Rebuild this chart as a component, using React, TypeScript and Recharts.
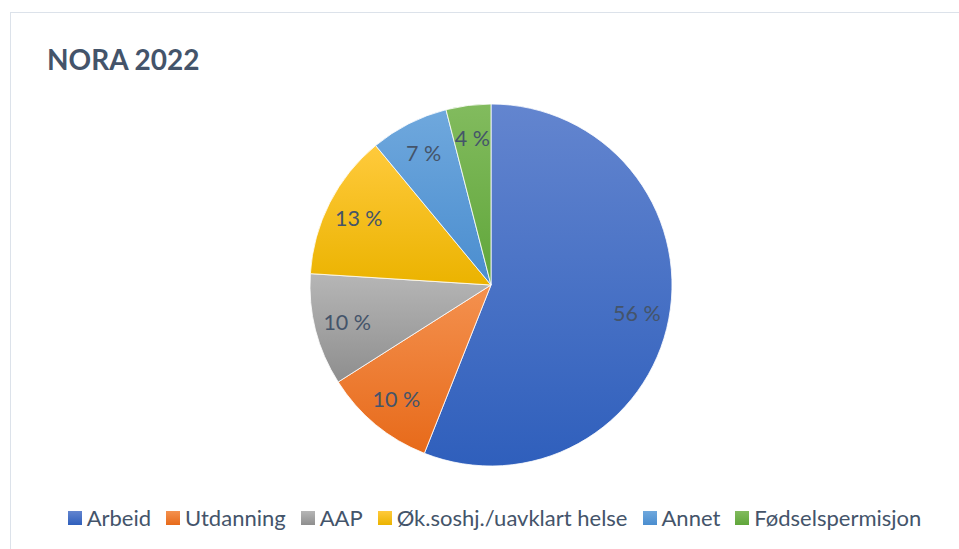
import { PieChart, Pie, Cell, Legend } from 'recharts';

const categories = ['Arbeid', 'Utdanning', 'AAP', 'Øk.soshj./uavklart helse', 'Annet', 'Fødselspermisjon'];
const shares = [56, 10, 10, 13, 7, 4];
const topColors = ['#6385cf', '#f4914f', '#b6b6b6', '#ffca3c', '#6fa8dd', '#82bb5e'];
const bottomColors = ['#2f5fbc', '#e76a1a', '#8e8e8e', '#ebb300', '#4a8dcf', '#60a63a'];

const data = categories.map((name, i) => ({ name, value: shares[i] }));

const TEXT = '#44546A';
const FONT = 'Lato, "Open Sans", sans-serif';
const RAD = Math.PI / 180;

const renderLabel = (props: any) => {
  const { cx, cy, midAngle, outerRadius, value } = props;
  const r = outerRadius * 0.82;
  const x = cx + r * Math.cos(-midAngle * RAD);
  const y = cy + r * Math.sin(-midAngle * RAD);
  return (
    <text
      x={x}
      y={y}
      fill={TEXT}
      fontSize={21.5}
      fontFamily={FONT}
      textAnchor="middle"
      dominantBaseline="central"
    >
      {`${value} %`}
    </text>
  );
};

const renderLegend = () => (
  <div
    style={{
      display: 'flex',
      justifyContent: 'center',
      alignItems: 'center',
      fontFamily: FONT,
      fontSize: 22,
      color: TEXT,
      whiteSpace: 'nowrap',
    }}
  >
    {categories.map((name, i) => (
      <div key={name} style={{ display: 'flex', alignItems: 'center', marginRight: i < categories.length - 1 ? 15 : 0 }}>
        <div
          style={{
            width: 14,
            height: 14,
            marginRight: 5,
            background: `linear-gradient(${topColors[i]}, ${bottomColors[i]})`,
          }}
        />
        <span>{name}</span>
      </div>
    ))}
  </div>
);

export default function App() {
  return (
    <div style={{ position: 'absolute', left: 0, top: 0, width: 959, height: 549, background: '#fff', overflow: 'hidden' }}>
      <div
        style={{
          position: 'absolute',
          left: 10,
          top: 12,
          width: 1000,
          height: 600,
          borderLeft: '1.5px solid #dce2ea',
          borderTop: '1.5px solid #dce2ea',
        }}
      />
      <div
        style={{
          position: 'absolute',
          left: 47,
          top: 41,
          fontFamily: FONT,
          fontWeight: 700,
          fontSize: 28,
          color: TEXT,
          lineHeight: '36px',
        }}
      >
        NORA 2022
      </div>
      <div style={{ position: 'absolute', left: 0, top: 0 }}>
        <PieChart width={959} height={549} margin={{ top: 0, right: 0, bottom: 0, left: 0 }}>
          <defs>
            {categories.map((_, i) => (
              <linearGradient key={i} id={`grad${i}`} x1="0" y1="0" x2="0" y2="1">
                <stop offset="0%" stopColor={topColors[i]} />
                <stop offset="100%" stopColor={bottomColors[i]} />
              </linearGradient>
            ))}
          </defs>
          <Pie
            data={data}
            dataKey="value"
            nameKey="name"
            cx={491}
            cy={285}
            outerRadius={181}
            startAngle={90}
            endAngle={-270}
            stroke="#ffffff"
            strokeWidth={0.8}
            label={renderLabel}
            labelLine={false}
            isAnimationActive={false}
          >
            {data.map((entry, i) => (
              <Cell key={entry.name} fill={`url(#grad${i})`} />
            ))}
          </Pie>
          <Legend
            content={renderLegend}
            wrapperStyle={{ position: 'absolute', left: 15, top: 504, width: 959 }}
          />
        </PieChart>
      </div>
    </div>
  );
}
